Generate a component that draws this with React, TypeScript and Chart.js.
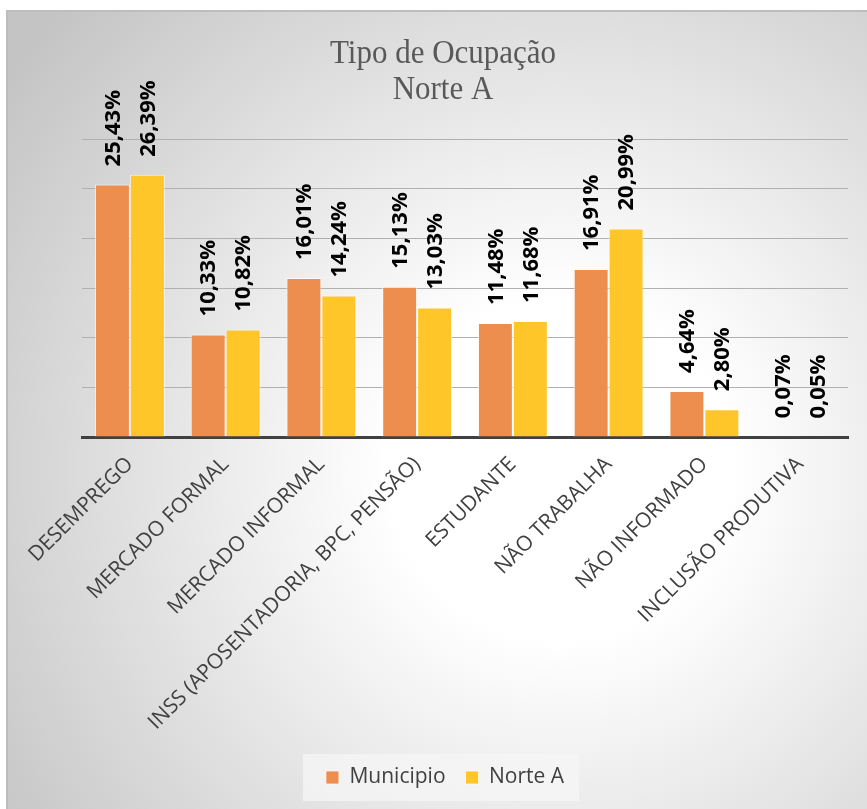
import React, { useEffect, useRef } from 'react';
import { Chart, registerables } from 'chart.js';

Chart.register(...registerables);

const categories = [
  'DESEMPREGO',
  'MERCADO FORMAL',
  'MERCADO INFORMAL',
  'INSS (APOSENTADORIA, BPC, PENSÃO)',
  'ESTUDANTE',
  'NÃO TRABALHA',
  'NÃO INFORMADO',
  'INCLUSÃO PRODUTIVA',
];
const municipio = [25.43, 10.33, 16.01, 15.13, 11.48, 16.91, 4.64, 0.07];
const norteA = [26.39, 10.82, 14.24, 13.03, 11.68, 20.99, 2.8, 0.05];
const seriesNames = ['Municipio', 'Norte A'];
const titleLines = ['Tipo de Ocupação', 'Norte A'];
const yMin = 0;
const yMax = 30;
const yStep = 5;

const W = 867;
const H = 809;

const fmt = (v: number) => v.toFixed(2).replace('.', ',') + '%';

const backgroundPlugin = {
  id: 'bgFrame',
  beforeDraw(chart: any) {
    const ctx = chart.ctx;
    ctx.save();
    ctx.fillStyle = '#ffffff';
    ctx.fillRect(0, 0, W, H);
    const g = ctx.createRadialGradient(560, 470, 0, 560, 470, 680);
    g.addColorStop(0, '#ffffff');
    g.addColorStop(0.25, '#ffffff');
    g.addColorStop(1, '#c4c4c4');
    ctx.fillStyle = g;
    ctx.fillRect(7, 11, W - 7, H - 11);
    ctx.strokeStyle = '#bdbdbd';
    ctx.lineWidth = 2;
    ctx.beginPath();
    ctx.moveTo(7, H);
    ctx.lineTo(7, 11);
    ctx.lineTo(W, 11);
    ctx.stroke();
    // legend box
    const lg = chart.legend;
    if (lg && lg.legendHitBoxes && lg.legendHitBoxes.length) {
      const hb = lg.legendHitBoxes;
      const l = hb[0].left - 23;
      const r = hb[hb.length - 1].left + hb[hb.length - 1].width + 15;
      const t = hb[0].top - 13;
      const b = hb[0].top + hb[0].height + 13;
      ctx.fillStyle = 'rgba(246,246,246,0.75)';
      ctx.fillRect(l, t, r - l, b - t);
    }
    ctx.restore();
  },
};

const titlePlugin = {
  id: 'titleText',
  afterDraw(chart: any) {
    const ctx = chart.ctx;
    ctx.save();
    ctx.font = '31px "Liberation Serif"';
    ctx.fillStyle = '#595959';
    ctx.textAlign = 'center';
    ctx.textBaseline = 'alphabetic';
    const baselines = [63, 99];
    titleLines.forEach((t, i) => {
      ctx.save();
      ctx.translate(443, baselines[i]);
      ctx.scale(1, 1.12);
      ctx.fillText(t, 0, 0);
      ctx.restore();
    });
    ctx.restore();
  },
};

const valueLabelPlugin = {
  id: 'valueLabels',
  afterDatasetsDraw(chart: any) {
    const ctx = chart.ctx;
    ctx.save();
    ctx.font = 'bold 22px "Open Sans"';
    ctx.fillStyle = '#000000';
    ctx.textAlign = 'left';
    ctx.textBaseline = 'middle';
    chart.data.datasets.forEach((ds: any, i: number) => {
      const meta = chart.getDatasetMeta(i);
      meta.data.forEach((bar: any, j: number) => {
        const v = ds.data[j];
        ctx.save();
        ctx.translate(bar.x + 1, bar.y - 18);
        ctx.rotate(-Math.PI / 2);
        ctx.fillText(fmt(v), 0, 0);
        ctx.restore();
      });
    });
    ctx.restore();
  },
};

export default function App() {
  const ref = useRef<HTMLCanvasElement>(null);

  useEffect(() => {
    if (!ref.current) return;
    const chart = new Chart(ref.current, {
      type: 'bar',
      data: {
        labels: categories,
        datasets: [
          {
            label: seriesNames[0],
            data: municipio,
            backgroundColor: '#EE8E4E',
            borderColor: 'rgba(255,255,255,0.7)',
            borderWidth: 1,
            categoryPercentage: 0.73,
            barPercentage: 1,
          },
          {
            label: seriesNames[1],
            data: norteA,
            backgroundColor: '#FFC629',
            borderColor: 'rgba(255,255,255,0.7)',
            borderWidth: 1,
            categoryPercentage: 0.73,
            barPercentage: 1,
          },
        ],
      },
      options: {
        responsive: false,
        animation: false,
        layout: { padding: { top: 139, left: 42, right: 19, bottom: 11 } },
        plugins: {
          title: { display: false },
          tooltip: { enabled: false },
          legend: {
            display: true,
            position: 'bottom',
            labels: {
              boxWidth: 13,
              boxHeight: 13,
              padding: 20,
              color: '#404040',
              font: { family: '"Open Sans"', size: 21 },
            },
          },
        },
        scales: {
          x: {
            grid: { display: false, drawTicks: false },
            border: { display: true, color: '#404040', width: 3 },
            ticks: {
              color: '#404040',
              font: { family: '"Open Sans"', size: 21 },
              maxRotation: 45,
              minRotation: 45,
              autoSkip: false,
              padding: 15,
            },
            afterFit: (s: any) => {
              s.height = 310;
            },
          },
          y: {
            min: yMin,
            max: yMax,
            ticks: { display: false, stepSize: yStep },
            grid: {
              drawTicks: false,
              lineWidth: 1,
              color: (c: any) => (c.tick && c.tick.value === 0 ? 'rgba(0,0,0,0)' : '#b0b0b0'),
            },
            border: { display: false },
            afterFit: (s: any) => {
              s.width = 40;
            },
          },
        },
      },
      plugins: [backgroundPlugin, valueLabelPlugin, titlePlugin],
    });
    return () => chart.destroy();
  }, []);

  return (
    <div style={{ position: 'fixed', left: 0, top: 0, width: W, height: H }}>
      <canvas ref={ref} width={W} height={H} style={{ width: W, height: H, display: 'block' }} />
    </div>
  );
}
